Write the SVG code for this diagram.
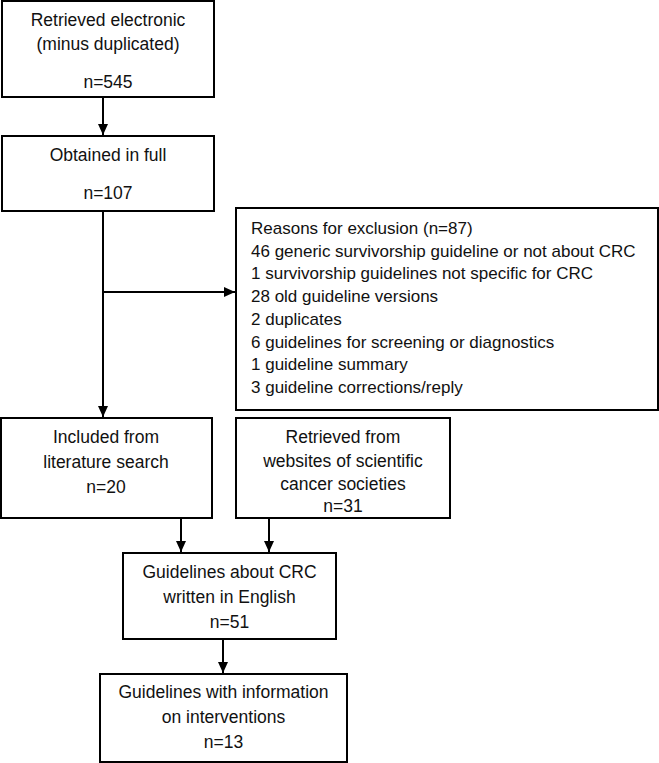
<svg xmlns="http://www.w3.org/2000/svg" width="659" height="763" viewBox="0 0 659 763">
<style>
.box{fill:#fff;stroke:#000;stroke-width:2}
.t{font-family:"Liberation Sans",Arial,sans-serif;font-size:17.5px;fill:#111;text-anchor:middle}
.e{font-family:"Liberation Sans",Arial,sans-serif;font-size:17px;fill:#111}
.c{stroke:#000;stroke-width:2;fill:none;marker-end:url(#ah)}
</style>
<defs>
<marker id="ah" markerUnits="userSpaceOnUse" markerWidth="12" markerHeight="12" refX="11" refY="6" orient="auto">
<path d="M0,1 L11,6 L0,11 Z" fill="#000"/>
</marker>
</defs>
<rect width="659" height="763" fill="#fff"/>
<g id="connectors">
<line class="c" x1="103" y1="97" x2="103" y2="135"/>
<line class="c" x1="103" y1="211" x2="103" y2="417"/>
<line class="c" x1="103" y1="292" x2="235" y2="292"/>
<line class="c" x1="181" y1="518" x2="181" y2="552"/>
<line class="c" x1="269" y1="518" x2="269" y2="552"/>
<line class="c" x1="223" y1="639" x2="223" y2="673"/>
</g>
<g id="n1">
<rect class="box" x="2" y="1" width="212" height="96"/>
<text class="t" x="108" y="26">Retrieved electronic</text>
<text class="t" x="108" y="50">(minus duplicated)</text>
<text class="t" x="108" y="88">n=545</text>
</g>
<g id="n2">
<rect class="box" x="2" y="136" width="212" height="75"/>
<text class="t" x="108" y="161">Obtained in full</text>
<text class="t" x="108" y="199">n=107</text>
</g>
<g id="n3">
<rect class="box" x="236" y="208" width="422" height="202"/>
<text class="e" x="251" y="234">Reasons for exclusion (n=87)</text>
<text class="e" x="251" y="256.7">46 generic survivorship guideline or not about CRC</text>
<text class="e" x="251" y="279.4">1 survivorship guidelines not specific for CRC</text>
<text class="e" x="251" y="302">28 old guideline versions</text>
<text class="e" x="251" y="324.8">2 duplicates</text>
<text class="e" x="251" y="347.5">6 guidelines for screening or diagnostics</text>
<text class="e" x="251" y="370">1 guideline summary</text>
<text class="e" x="251" y="393">3 guideline corrections/reply</text>
</g>
<g id="n4">
<rect class="box" x="1" y="418" width="211" height="100"/>
<text class="t" x="106" y="443">Included from</text>
<text class="t" x="106" y="468">literature search</text>
<text class="t" x="106" y="493">n=20</text>
</g>
<g id="n5">
<rect class="box" x="236" y="418" width="214" height="100"/>
<text class="t" x="343" y="443">Retrieved from</text>
<text class="t" x="343" y="467">websites of scientific</text>
<text class="t" x="343" y="490">cancer societies</text>
<text class="t" x="343" y="512">n=31</text>
</g>
<g id="n6">
<rect class="box" x="123" y="553" width="213" height="86"/>
<text class="t" x="229.5" y="578">Guidelines about CRC</text>
<text class="t" x="229.5" y="603">written in English</text>
<text class="t" x="229.5" y="628">n=51</text>
</g>
<g id="n7">
<rect class="box" x="100" y="674" width="247" height="88"/>
<text class="t" x="223.5" y="698">Guidelines with information</text>
<text class="t" x="223.5" y="723">on interventions</text>
<text class="t" x="223.5" y="748">n=13</text>
</g>
</svg>
